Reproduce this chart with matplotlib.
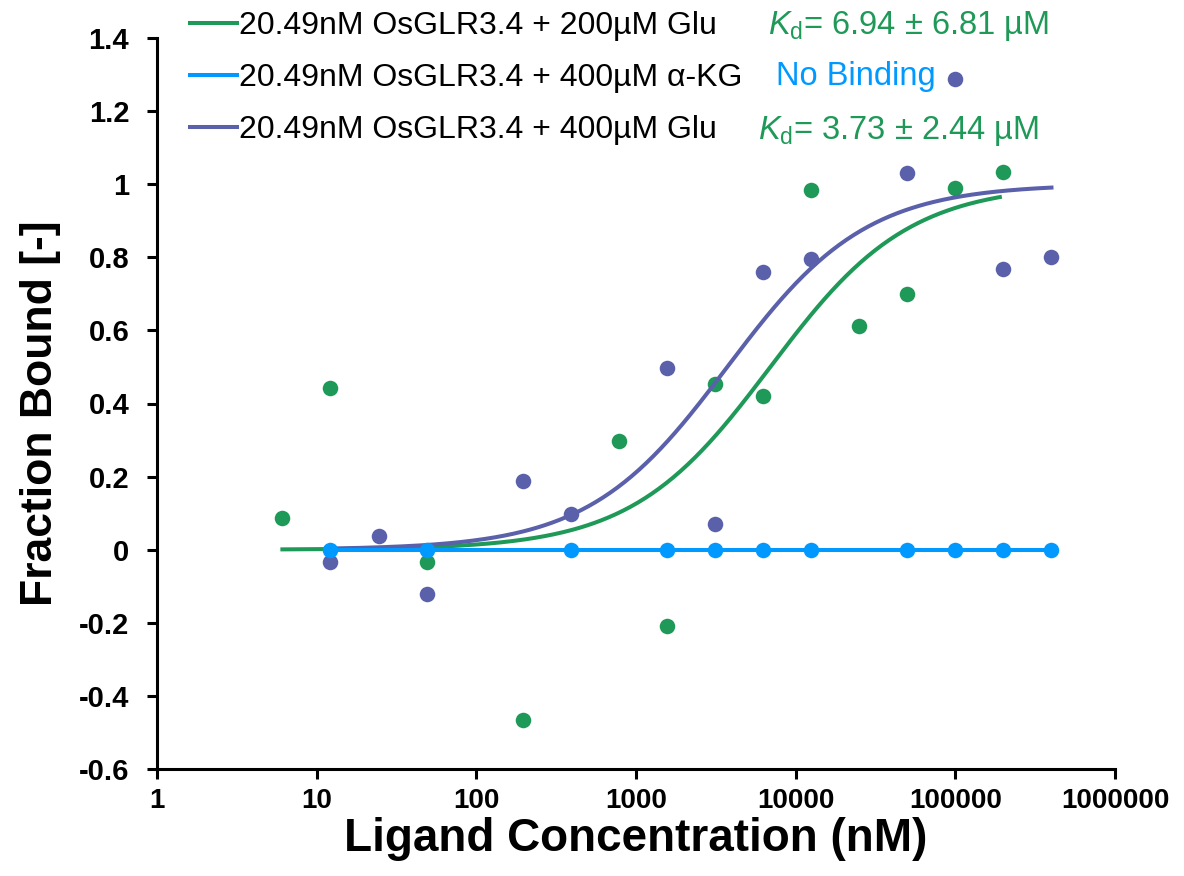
import numpy as np
import matplotlib
matplotlib.use("Agg")
import matplotlib.pyplot as plt
from matplotlib.lines import Line2D

plt.rcParams['font.family'] = ['Liberation Sans', 'DejaVu Sans']
plt.rcParams['axes.unicode_minus'] = False
plt.rcParams['mathtext.fontset'] = 'custom'
plt.rcParams['mathtext.rm'] = 'Liberation Sans'
plt.rcParams['mathtext.it'] = 'Liberation Sans:italic'

# ---- data ----
glu200_conc = [6.1, 12.2, 48.8, 195.3, 781.25, 1562.5, 3125, 6250, 12500, 25000, 50000, 100000, 200000]
glu200_fb = [0.088, 0.442, -0.034, -0.466, 0.298, -0.209, 0.454, 0.421, 0.985, 0.612, 0.700, 0.990, 1.033]

glu400_conc = [12.2, 24.4, 48.8, 195.3, 390.6, 1562.5, 3125, 6250, 12500, 50000, 100000, 200000, 400000]
glu400_fb = [-0.035, 0.037, -0.122, 0.188, 0.097, 0.498, 0.070, 0.760, 0.795, 1.030, 1.287, 0.767, 0.802]

akg_conc = [12.2, 48.8, 390.6, 1562.5, 3125, 6250, 12500, 50000, 100000, 200000, 400000]
akg_fb = [0, 0, 0, 0, 0, 0, 0, 0, 0, 0, 0]

kd_glu200_nM = 6940.0
kd_glu400_nM = 3730.0
fit_range_glu200 = (6.1, 190000)
fit_range_glu400 = (12.2, 400000)

labels = ["20.49nM OsGLR3.4 + 200µM Glu",
          "20.49nM OsGLR3.4 + 400µM α-KG",
          "20.49nM OsGLR3.4 + 400µM Glu"]
xticks = [1, 10, 100, 1000, 10000, 100000, 1000000]
yticks = [-0.6, -0.4, -0.2, 0, 0.2, 0.4, 0.6, 0.8, 1.0, 1.2, 1.4]

c_green = '#1F9958'
c_blue = '#0099FF'
c_purple = '#5A60AA'

fig = plt.figure(figsize=(11.84, 8.76), dpi=100)
ax = fig.add_axes([157/1184, 1-769/876, (1115-157)/1184, (769-38)/876])

def fit(conc_range, kd):
    c = np.logspace(np.log10(conc_range[0]), np.log10(conc_range[1]), 300)
    return c, c / (c + kd)

lw = 2.9
ms = 125
cx, cy = fit(fit_range_glu200, kd_glu200_nM)
ax.plot(cx, cy, color=c_green, lw=lw, zorder=2)
ax.scatter(glu200_conc, glu200_fb, s=ms, color=c_green, zorder=3, linewidths=0)
cx, cy = fit(fit_range_glu400, kd_glu400_nM)
ax.plot(cx, cy, color=c_purple, lw=lw, zorder=4)
ax.scatter(glu400_conc, glu400_fb, s=ms, color=c_purple, zorder=5, linewidths=0)
ax.plot(akg_conc, akg_fb, color=c_blue, lw=lw, zorder=6)
ax.scatter(akg_conc, akg_fb, s=ms, color=c_blue, zorder=7, linewidths=0)

ax.set_xscale('log')
ax.set_xlim(1, 1000000)
ax.set_ylim(-0.6, 1.4)
ax.set_xticks(xticks)
ax.set_xticklabels([str(v) for v in xticks])
ax.xaxis.set_minor_locator(matplotlib.ticker.NullLocator())
ax.set_yticks(yticks)
ax.set_yticklabels(['%g' % v for v in yticks])

for s in ['top', 'right']:
    ax.spines[s].set_visible(False)
for s in ['left', 'bottom']:
    ax.spines[s].set_linewidth(2.2)
ax.tick_params(axis='x', direction='out', length=7, width=2.2, labelsize=20, pad=7)
ax.tick_params(axis='y', direction='out', length=7, width=2.2, labelsize=21, pad=13)
for t in ax.get_xticklabels() + ax.get_yticklabels():
    t.set_fontweight('bold')

ax.set_xlabel('Ligand Concentration (nM)', fontsize=33, fontweight='bold', labelpad=2)
ax.set_ylabel('Fraction Bound [-]', fontsize=32, fontweight='bold')
ax.yaxis.set_label_coords((61 - 157) / 958, 1 - (413 - 38) / 731)

handles = [Line2D([], [], color=c_green, lw=lw),
           Line2D([], [], color=c_blue, lw=lw),
           Line2D([], [], color=c_purple, lw=lw)]
fig.legend(handles, labels, loc='upper left', bbox_to_anchor=(184/1184, 1-5/876),
           frameon=False, fontsize=23, handlelength=1.45, handletextpad=0.08,
           labelspacing=0.68, borderaxespad=0, borderpad=0.2)

fig.text(768/1184, 1-26/876, r'$K_\mathrm{d}$= 6.94 ± 6.81 µM', color=c_green, fontsize=23.5,
         va='center', ha='left')
fig.text(776/1184, 1-77/876, 'No Binding', color=c_blue, fontsize=23.5, va='center', ha='left')
fig.text(758/1184, 1-131/876, r'$K_\mathrm{d}$= 3.73 ± 2.44 µM', color=c_green, fontsize=23.5,
         va='center', ha='left')

fig.savefig('out.png', dpi=100)
